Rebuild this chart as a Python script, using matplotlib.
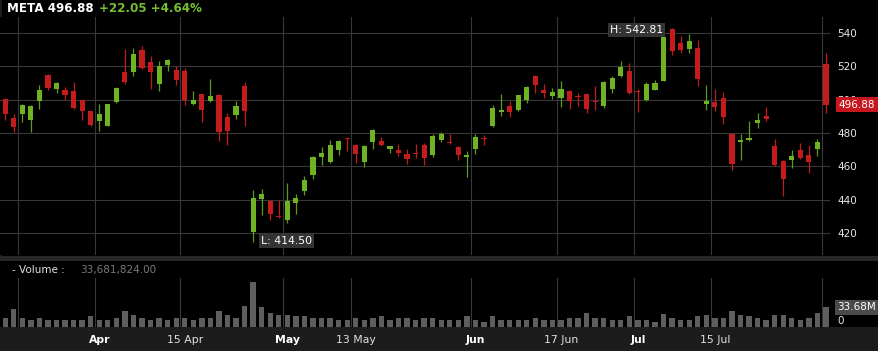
import matplotlib
matplotlib.use("Agg")
import matplotlib.pyplot as plt
from matplotlib.patches import Rectangle
from matplotlib.transforms import blended_transform_factory
import numpy as np

plt.rcParams['font.family'] = ['DejaVu Sans']

# ---------------- data ----------------
ticker = "META"
last_price = 496.88
change = 22.05
change_pct = 4.64
last_volume = 33681824.00

opens = [500.2, 489.0, 491.2, 487.6, 499.2, 515.0, 506.6, 506.0, 505.2, 499.6,
         493.0, 487.4, 484.4, 498.6, 516.6, 516.4, 529.6, 522.6, 509.2, 520.8,
         518.0, 517.0, 497.6, 503.2, 499.2, 503.0, 489.6, 490.6, 508.2, 420.4,
         440.6, 439.2, 430.4, 427.6, 438.0, 445.2, 454.6, 465.6, 462.6, 469.6,
         477.2, 472.6, 462.6, 474.6, 475.0, 470.4, 470.0, 467.2, 468.0, 472.6,
         466.6, 476.0, 474.4, 471.6, 465.4, 470.2, 477.2, 484.0, 492.8, 496.0,
         493.6, 499.6, 514.2, 506.0, 502.0, 501.2, 505.0, 502.2, 503.6, 499.4,
         496.2, 506.2, 514.0, 517.2, 505.2, 499.6, 506.0, 511.2, 542.6, 534.0,
         530.6, 531.2, 497.6, 498.6, 501.2, 479.2, 474.6, 475.8, 486.2, 490.0,
         472.4, 463.0, 463.6, 469.6, 467.0, 470.6, 521.2]
highs = [501.2, 491.6, 497.6, 496.6, 508.6, 515.6, 510.6, 507.6, 510.6, 500.0,
         493.2, 497.6, 497.6, 507.6, 530.2, 531.0, 532.0, 526.2, 523.0, 524.2,
         520.2, 519.0, 505.2, 503.6, 512.6, 503.6, 492.0, 499.0, 510.6, 445.6,
         446.2, 439.6, 439.6, 450.0, 443.6, 454.0, 466.0, 471.6, 475.6, 476.0,
         477.2, 473.2, 472.6, 482.6, 477.6, 472.4, 473.2, 470.6, 473.6, 474.0,
         479.6, 480.6, 479.6, 472.0, 469.0, 479.6, 479.0, 496.6, 503.2, 499.0,
         503.0, 508.0, 514.6, 509.6, 507.2, 511.0, 506.0, 504.2, 504.0, 508.0,
         511.0, 514.0, 523.2, 522.2, 506.6, 510.6, 511.6, 537.6, 542.81, 538.0,
         539.2, 535.6, 508.6, 506.6, 504.6, 479.6, 479.6, 487.0, 492.2, 495.6,
         476.6, 463.6, 469.6, 474.0, 472.6, 476.6, 528.0]
lows = [487.6, 480.6, 486.6, 480.6, 494.6, 505.6, 504.0, 499.6, 494.6, 487.6,
        484.4, 481.0, 484.0, 498.2, 509.6, 514.2, 518.6, 506.2, 505.2, 517.2,
        508.6, 496.6, 496.6, 486.6, 498.6, 475.2, 472.8, 488.2, 484.0, 414.5,
        430.6, 427.6, 429.2, 426.0, 431.2, 442.6, 452.6, 460.6, 462.2, 466.8,
        469.0, 462.0, 459.6, 470.6, 472.2, 468.0, 466.2, 461.2, 465.2, 460.6,
        465.6, 474.6, 473.6, 464.0, 453.6, 467.6, 472.6, 483.6, 490.0, 489.6,
        493.2, 498.0, 504.0, 501.2, 500.2, 495.6, 494.6, 496.2, 492.0, 493.6,
        495.0, 504.2, 513.6, 503.2, 492.6, 499.0, 505.6, 511.0, 526.6, 528.0,
        528.2, 508.0, 493.6, 493.0, 485.2, 458.0, 463.6, 475.2, 483.2, 487.2,
        460.2, 442.0, 459.0, 464.6, 456.0, 466.0, 492.0]
closes = [491.2, 483.6, 497.0, 496.2, 505.6, 507.2, 510.0, 502.6, 495.2, 493.2,
          484.6, 491.2, 497.6, 507.0, 510.4, 527.6, 519.0, 516.6, 520.0, 523.6,
          511.6, 499.6, 500.0, 493.6, 502.0, 480.6, 481.2, 496.0, 493.2, 441.0,
          443.2, 431.6, 429.4, 439.0, 441.2, 451.6, 465.6, 468.2, 472.6, 475.2,
          476.2, 467.6, 472.0, 481.6, 472.6, 472.4, 468.0, 464.2, 467.2, 465.2,
          478.2, 479.6, 473.8, 466.6, 466.6, 477.6, 476.4, 495.2, 494.0, 492.6,
          502.6, 507.6, 508.6, 504.0, 504.6, 506.6, 499.2, 501.4, 494.6, 498.8,
          510.6, 513.2, 519.6, 504.0, 504.4, 509.6, 510.0, 537.6, 529.2, 530.0,
          535.0, 512.2, 499.0, 495.6, 489.6, 461.2, 475.6, 476.8, 487.6, 488.2,
          460.6, 452.6, 466.0, 465.2, 462.6, 474.6, 496.88]
volumes_m = [14.5, 29.7, 14.5, 12.2, 14.5, 12.2, 10.5, 10.5, 12.2, 12.2,
             17.5, 10.5, 12.2, 14.5, 26.2, 20.9, 15.7, 12.2, 14.0, 12.2,
             14.0, 15.7, 12.2, 14.0, 15.7, 26.2, 19.2, 15.7, 36.6, 78.5,
             33.2, 22.7, 19.2, 20.9, 17.5, 17.5, 15.7, 15.7, 14.0, 10.5,
             12.2, 15.7, 12.2, 14.0, 17.5, 12.2, 14.0, 14.0, 12.2, 14.0,
             14.0, 12.2, 10.5, 12.2, 17.5, 12.2, 8.7, 17.5, 12.2, 10.5,
             12.2, 12.2, 14.0, 12.2, 12.2, 12.2, 14.0, 14.0, 24.4, 15.7,
             14.0, 10.5, 12.2, 17.5, 12.2, 10.5, 8.7, 22.1, 15.7, 10.5,
             12.2, 17.5, 20.9, 14.0, 15.7, 27.9, 20.9, 17.5, 14.0, 10.5,
             19.2, 19.2, 15.7, 12.2, 14.0, 24.4, 33.68]

date_tick_idx = [11, 21, 33, 41, 55, 65, 74, 83]
date_tick_labels = ["Apr", "15 Apr", "May", "13 May", "Jun", "17 Jun", "Jul", "15 Jul"]
date_tick_bold = [True, False, True, False, True, False, True, False]
grid_idx = [2, 11, 21, 33, 41, 55, 65, 74, 83, 96]
price_ticks = [420, 440, 460, 480, 500, 520, 540]

# ---------------- style ----------------
GREEN = "#6fb324"
GREEN_WICK = "#5c9a1e"
RED = "#c41c1c"
GRID = "#383838"
VOLBAR = "#5e5e5e"

W, H = 879, 351
fig = plt.figure(figsize=(W / 100, H / 100), dpi=100, facecolor="black")


def fx(px):
    return px / W


def fy(py):
    return 1 - py / H


# background bands (drawn beneath the axes)
fig.patches.append(Rectangle((0, fy(351)), 1, (351 - 326.5) / H, transform=fig.transFigure,
                             facecolor="#1c1c1c", edgecolor="none", zorder=-5))
fig.patches.append(Rectangle((0, fy(261)), 1, 5 / H, transform=fig.transFigure,
                             facecolor="#262626", edgecolor="none", zorder=-5))
fig.patches.append(Rectangle((0, fy(256)), fx(2), (256 - 0) / H, transform=fig.transFigure,
                             facecolor="#1c1c1c", edgecolor="none", zorder=-5))

n = len(closes)
idx = np.arange(n)
px_per_bar = 8.55
x0_px = 5.2
ax_right_px = 830
xl = (0 - x0_px) / px_per_bar
xr = (ax_right_px - x0_px) / px_per_bar

# ---------------- main price axes ----------------
top_px, bot_px = 17, 255
ax = fig.add_axes([0, fy(bot_px), fx(ax_right_px), (bot_px - top_px) / H])
ax.set_facecolor("black")
ppx = 1.6667  # px per dollar
ax.set_xlim(xl, xr)
ax.set_ylim(540 - (bot_px - 33) / ppx, 540 + (33 - top_px) / ppx)
for s in ax.spines.values():
    s.set_visible(False)
ax.set_xticks([])
ax.yaxis.tick_right()
ax.set_yticks(price_ticks)
ax.set_yticklabels([str(t) for t in price_ticks])
ax.tick_params(axis="y", length=0, pad=5.5, labelsize=7.5, labelcolor="#e6e6e6")

for p in price_ticks:
    ax.axhline(p, color=GRID, lw=0.8, zorder=1)
for g in grid_idx:
    ax.axvline(g - 0.5, color=GRID, lw=0.8, zorder=1)

o = np.array(opens); h = np.array(highs); l = np.array(lows); c = np.array(closes)
up = c >= o
body_col = np.where(up, GREEN, RED)
wick_col = np.where(up, GREEN_WICK, RED)
ax.vlines(idx, l, h, colors=wick_col, lw=0.9, zorder=2)
bottom = np.minimum(o, c)
height = np.maximum(np.abs(c - o), 0.7)
ax.bar(idx, height, bottom=bottom, width=0.6, color=body_col, edgecolor="none", zorder=3)

# high / low labels
i_hi = int(np.argmax(h))
i_lo = int(np.argmin(l))
ax.annotate(f"H: {h[i_hi]:.2f}", xy=(i_hi, h[i_hi]), xytext=(-9, -1.5), textcoords="offset pixels",
            ha="right", va="center", fontsize=7.8, color="white", zorder=6,
            bbox=dict(boxstyle="square,pad=0.2", fc="#333333", ec="none"))
ax.annotate(f"L: {l[i_lo]:.2f}", xy=(i_lo, l[i_lo]), xytext=(8, 1.5), textcoords="offset pixels",
            ha="left", va="center", fontsize=7.8, color="white", zorder=6,
            bbox=dict(boxstyle="square,pad=0.2", fc="#333333", ec="none"))

# last price box on the right
tr = blended_transform_factory(fig.transFigure, ax.transData)
ax.text(fx(857), last_price, f"{last_price:.2f}", transform=tr, ha="center", va="center",
        fontsize=7.5, color="white", zorder=10, clip_on=False,
        bbox=dict(boxstyle="square,pad=0.25", fc="#c8161e", ec="none"))

# ---------------- volume axes ----------------
vtop_px, vbot_px = 262, 326.5
vol_scale = 1.745  # M per px
axv = fig.add_axes([0, fy(vbot_px), fx(ax_right_px), (vbot_px - vtop_px) / H])
axv.set_facecolor("black")
axv.set_xlim(xl, xr)
axv.set_ylim(0, (vbot_px - vtop_px) * vol_scale)
for s in axv.spines.values():
    s.set_visible(False)
axv.set_xticks([])
axv.set_yticks([])
for g in grid_idx:
    axv.axvline(g - 0.5, ymin=0, ymax=(vbot_px - 278) / (vbot_px - vtop_px), color=GRID, lw=0.8, zorder=1)
axv.bar(idx, volumes_m, width=0.62, color=VOLBAR, edgecolor="none", zorder=2)

trv = blended_transform_factory(fig.transFigure, axv.transData)
axv.text(fx(857), volumes_m[-1], f"{last_volume / 1e6:.2f}M", transform=trv, ha="center", va="center",
         fontsize=7.5, color="white", zorder=10, clip_on=False,
         bbox=dict(boxstyle="square,pad=0.25", fc="#4a4a4a", ec="none"))
axv.text(fx(837), 0, "0", transform=trv, ha="left", va="bottom", fontsize=7.5,
         color="#e6e6e6", clip_on=False)

# ---------------- date labels ----------------
trd = blended_transform_factory(axv.transData, fig.transFigure)
for i, lab, b in zip(date_tick_idx, date_tick_labels, date_tick_bold):
    axv.text(i, fy(340), lab, transform=trd, ha="center", va="center", fontsize=7.8,
             fontweight="bold" if b else "normal", color="white" if b else "#e0e0e0",
             clip_on=False, zorder=10)

# ---------------- header texts ----------------
fig.text(fx(7), fy(8), f"{ticker} {last_price:.2f}", ha="left", va="center", fontsize=8.6,
         fontweight="bold", color="white")
fig.text(fx(99), fy(8), f"+{change:.2f} +{change_pct:.2f}%", ha="left", va="center", fontsize=8.6,
         fontweight="bold", color="#74be30")
fig.text(fx(12), fy(270), "- Volume :", ha="left", va="center", fontsize=7.5, color="#e0e0e0")
fig.text(fx(80), fy(270), f"{last_volume:,.2f}", ha="left", va="center", fontsize=7.5, color="#7a7a7a")

fig.savefig("out.png", dpi=100, facecolor="black")
